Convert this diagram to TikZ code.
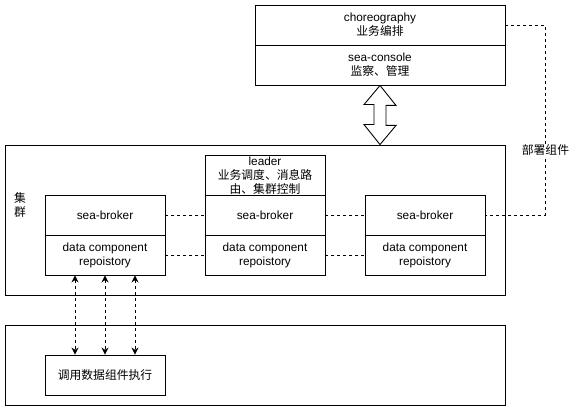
\documentclass[tikz,border=0pt]{standalone}
\usepackage{fontspec}
\setmainfont{Liberation Sans}
\newfontfamily\cjk{Noto Sans CJK SC}
\usetikzlibrary{arrows.meta}

\begin{document}
\begin{tikzpicture}[x=1pt,y=-1pt,line width=0.9pt,
    font=\fontsize{11.8}{14}\selectfont,
    box/.style={draw,rectangle,inner sep=0pt,align=center,minimum width=120pt,minimum height=40pt},
    frame/.style={draw,rectangle,inner sep=0pt,minimum width=500pt},
    link/.style={dash pattern=on 3pt off 3pt},
    twoway/.style={link,{Stealth[length=7pt,width=7pt]}-{Stealth[length=7pt,width=7pt]}}]
      \useasboundingbox (0,0) rectangle (573,411);

      \node[box,minimum width=250pt] (chor) at (380,25) {choreography\\{\cjk 业务编排}};
      \node[box,minimum width=250pt] (console) at (380,65) {sea-console\\{\cjk 监察、管理}};

      \node[frame,minimum height=150pt] (cluster) at (255,220) {};
      \node[align=center] (clusterlabel) at (20,205) {{\cjk 集}\\{\cjk 群}};
      \node[box] (leader) at (265,175) {};
      \node[align=center,inner sep=0pt] (leadertext) at (265,176) {leader\\{\cjk 业务调度、消息路}\\{\cjk 由、集群控制}};
      \node[box] (broker1) at (105,215) {sea-broker};
      \node[box] (repo1) at (105,255) {data component\\repoistory};
      \node[box] (broker2) at (265,215) {sea-broker};
      \node[box] (repo2) at (265,255) {data component\\repoistory};
      \node[box] (broker3) at (425,215) {sea-broker};
      \node[box] (repo3) at (425,255) {data component\\repoistory};

      \node[frame,minimum height=80pt] (runner) at (255,365) {};
      \node[box] (exec) at (105,375) {\cjk 调用数据组件执行};

      \coordinate (arrowtop) at (console.south);
      \coordinate (arrowbottom) at (console.south |- cluster.north);
      \draw[fill=white] (arrowtop) -- ++(16,20) -- ++(-10,0) -- ++(0,20) -- ++(10,0)
        -- (arrowbottom) -- ++(-16,-20) -- ++(10,0) -- ++(0,-20) -- ++(-10,0) -- cycle;

      \draw[link] (broker1) -- (broker2);
      \draw[link] (repo1) -- (repo2);
      \draw[link] (broker2) -- (broker3);
      \draw[link] (repo2) -- (repo3);
      \draw[link] (chor.east) -- ++(40,0) |- node[pos=0.33,fill=white,inner sep=1pt] {\cjk 部署组件} (broker3.east);

      \draw[twoway] ([xshift=-30pt]repo1.south) -- ([xshift=-30pt]exec.north);
      \draw[twoway] (repo1.south) -- (exec.north);
      \draw[twoway] ([xshift=30pt]repo1.south) -- ([xshift=30pt]exec.north);
    \end{tikzpicture}
\end{document}
